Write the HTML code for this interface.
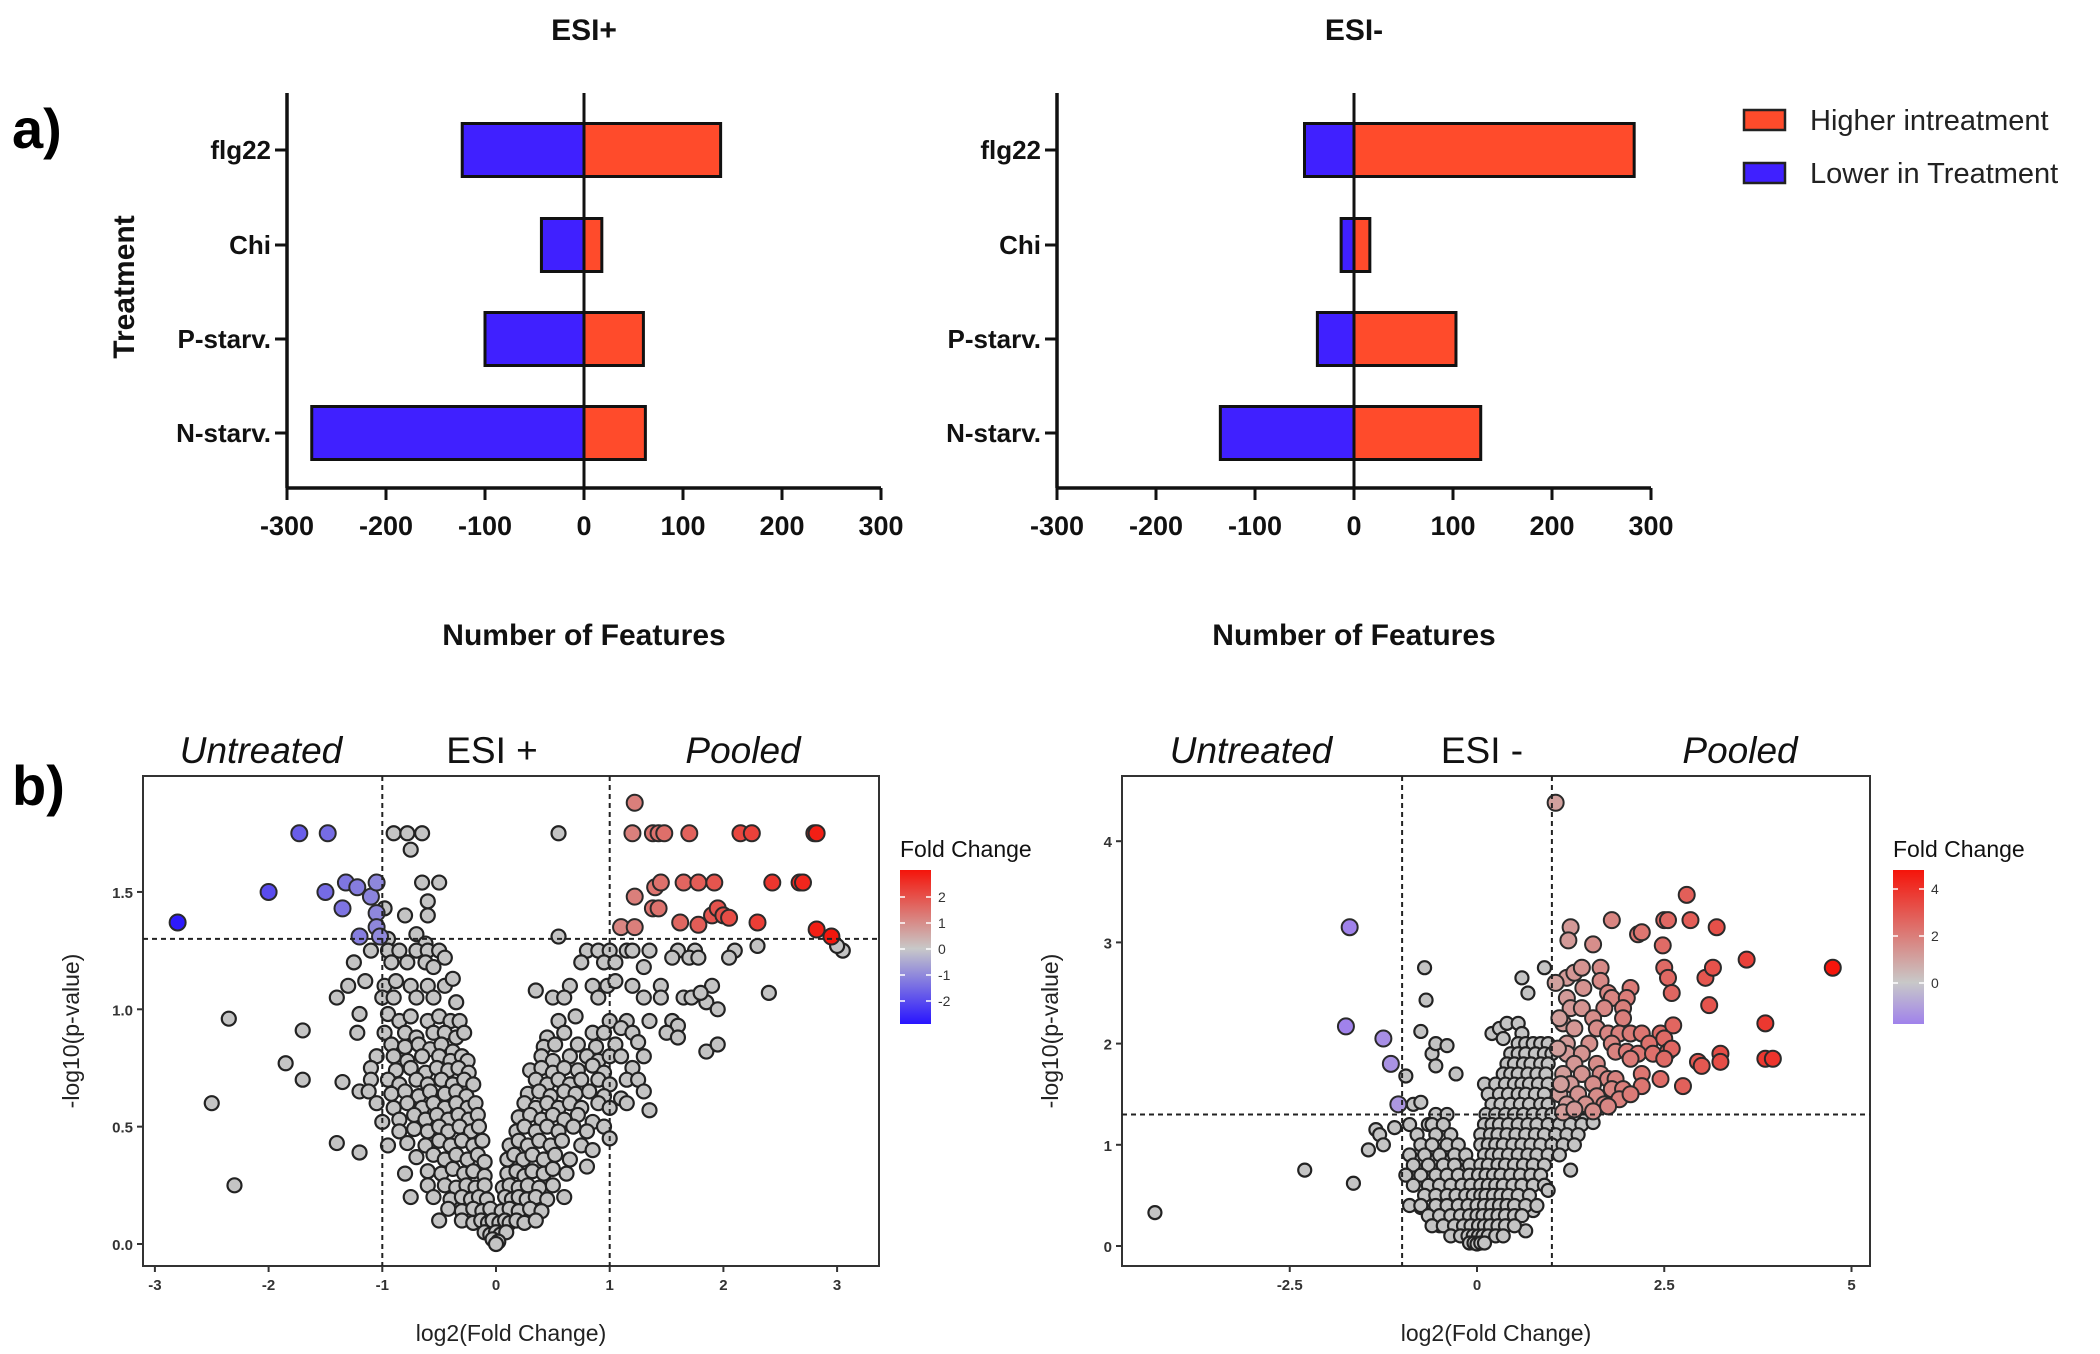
<!DOCTYPE html>
<html><head><meta charset="utf-8"><style>
html,body{margin:0;padding:0;background:#fff;}
svg{display:block;}
.cond{font-family:"Liberation Sans Narrow","Liberation Sans",sans-serif;font-weight:bold;}
.sans{font-family:"Liberation Sans",sans-serif;}
</style></head><body>
<svg id="fig" width="2100" height="1354" viewBox="0 0 2100 1354" xmlns="http://www.w3.org/2000/svg">
<rect width="2100" height="1354" fill="#fff"/>
<text x="12" y="148" class="sans" font-size="56" font-weight="bold">a)</text>
<text x="12" y="805" class="sans" font-size="56" font-weight="bold">b)</text>
<g id="barA"></g>
<g id="barB"></g>
<g id="legend">
  <rect x="1744" y="110" width="41" height="20" fill="#ff4b2b" stroke="#222" stroke-width="2.5"/>
  <text x="1810" y="130" class="sans" font-size="29" fill="#222">Higher intreatment</text>
  <rect x="1744" y="163" width="41" height="20" fill="#4020ff" stroke="#222" stroke-width="2.5"/>
  <text x="1810" y="183" class="sans" font-size="29" fill="#222">Lower in Treatment</text>
</g>
<g id="volA"></g>
<g id="volB"></g>
</svg>
<script>
// ---------- Panel a data ----------
const barCategories = ["flg22","Chi","P-starv.","N-starv."];
const esiPosLower = [-123,-43,-100,-275];
const esiPosHigher = [138,18,60,62];
const esiNegLower = [-50,-13,-37,-135];
const esiNegHigher = [283,16,103,128];
const barTicks = [-300,-200,-100,0,100,200,300];

// ---------- Panel b data ----------
const volPosTicksX = [-3,-2,-1,0,1,2,3];
const volPosTicksY = [0,0.5,1.0,1.5];
const volPosTickLabelsY = ["0.0","0.5","1.0","1.5"];
const volPosColorTicks = [2,1,0,-1,-2];
const volPosSig = [[-2.8,1.37],[-2.0,1.50],[-1.73,1.75],[-1.48,1.75],[-1.5,1.50],[-1.32,1.54],[-1.22,1.52],[-1.35,1.43],[-1.1,1.48],[-1.05,1.54],[-1.05,1.41],[-1.05,1.35],[-1.2,1.31],[-1.02,1.31],
[1.22,1.88],[1.2,1.75],[1.38,1.75],[1.43,1.75],[1.48,1.75],[1.7,1.75],[2.15,1.75],[2.25,1.75],[2.8,1.75],[2.82,1.75],[1.1,1.35],[1.22,1.35],[1.22,1.48],[1.4,1.52],[1.45,1.54],[1.38,1.43],[1.43,1.43],[1.65,1.54],[1.78,1.54],[1.92,1.54],[1.62,1.37],[1.78,1.36],[1.9,1.40],[1.95,1.43],[2.0,1.40],[2.05,1.39],[2.3,1.37],[2.43,1.54],[2.67,1.54],[2.7,1.54],[2.82,1.34],[2.95,1.31]];
const volPosGray = [[-0.9,1.75],[-0.78,1.75],[-0.65,1.75],[-0.75,1.68],[-0.65,1.54],[-0.5,1.54],[-0.8,1.40],[-0.6,1.40],[-0.98,1.43],[0.55,1.75],[0.55,1.31],[-0.6,1.46],[-0.7,1.32],[-0.95,1.3],[-0.62,1.28],
[-1.1,1.25],[-0.95,1.25],[-0.85,1.25],[-0.7,1.25],[-0.6,1.25],[-0.5,1.25],[-0.45,1.22],[0.8,1.25],[0.9,1.25],[1.0,1.25],[1.15,1.25],[1.2,1.25],[1.35,1.25],[1.6,1.25],[1.75,1.25],[2.1,1.25],[2.3,1.27],[3.05,1.25],[3.0,1.27],
[-1.25,1.2],[-0.92,1.2],[-0.78,1.2],[-0.62,1.2],[-0.55,1.18],[0.75,1.2],[0.95,1.2],[1.05,1.2],[1.3,1.18],[1.55,1.22],[1.7,1.22],[1.78,1.22],[2.05,1.22],
[-1.3,1.1],[-1.15,1.12],[-0.98,1.1],[-0.88,1.12],[-0.75,1.1],[-0.6,1.1],[-0.45,1.1],[-0.38,1.13],[0.35,1.08],[0.65,1.1],[0.85,1.1],[0.98,1.1],[1.05,1.12],[1.2,1.1],[1.45,1.1],[1.9,1.1],[2.4,1.07],
[-1.4,1.05],[-1.0,1.05],[-0.9,1.05],[-0.7,1.05],[-0.55,1.05],[-0.35,1.03],[0.5,1.05],[0.6,1.05],[0.9,1.05],[1.3,1.05],[1.45,1.05],[1.65,1.05],[1.72,1.05],[1.85,1.03],[1.8,1.07],
[-1.2,0.98],[-0.95,0.98],[-0.85,0.95],[-0.75,0.97],[-0.6,0.95],[-0.5,0.97],[-0.4,0.95],[-0.32,0.95],[0.55,0.95],[0.7,0.97],[1.0,0.95],[1.15,0.95],[1.35,0.95],[1.55,0.95],[1.6,0.93],[1.95,1.0],
[-2.35,0.96],[-1.7,0.91],[-1.22,0.9],[-0.98,0.9],[-0.8,0.9],[-0.7,0.88],[-0.55,0.9],[-0.45,0.9],[-0.35,0.88],[-0.28,0.9],[0.45,0.88],[0.6,0.9],[0.85,0.9],[0.95,0.9],[1.1,0.92],[1.2,0.9],[1.5,0.9],
[-0.92,0.85],[-0.8,0.84],[-0.68,0.85],[-0.58,0.83],[-0.48,0.85],[-0.38,0.82],[0.42,0.84],[0.52,0.85],[0.72,0.85],[0.88,0.84],[1.05,0.85],[1.25,0.86],[1.6,0.88],
[-1.85,0.77],[-1.05,0.8],[-0.9,0.8],[-0.78,0.78],[-0.65,0.8],[-0.5,0.8],[-0.4,0.78],[-0.3,0.8],[-0.25,0.78],[0.4,0.8],[0.5,0.78],[0.65,0.8],[0.8,0.8],[0.9,0.78],[1.0,0.8],[1.1,0.8],[1.3,0.8],[1.85,0.82],[1.95,0.85],
[-1.1,0.75],[-0.88,0.74],[-0.75,0.75],[-0.62,0.73],[-0.52,0.75],[-0.42,0.74],[-0.33,0.75],[-0.24,0.73],[0.3,0.74],[0.4,0.75],[0.5,0.73],[0.6,0.75],[0.72,0.74],[0.85,0.76],[0.95,0.73],[1.2,0.75],
[-1.7,0.7],[-1.35,0.69],[-1.1,0.7],[-0.95,0.7],[-0.85,0.68],[-0.7,0.7],[-0.6,0.68],[-0.48,0.7],[-0.38,0.68],[-0.28,0.7],[-0.2,0.68],[0.35,0.7],[0.45,0.68],[0.55,0.7],[0.65,0.68],[0.75,0.7],[0.9,0.7],[1.0,0.68],[1.15,0.7],[1.25,0.7],[1.3,0.65],
[-1.2,0.65],[-1.12,0.65],[-0.92,0.64],[-0.8,0.65],[-0.68,0.63],[-0.58,0.65],[-0.45,0.64],[-0.35,0.65],[-0.26,0.63],[0.28,0.64],[0.38,0.65],[0.48,0.63],[0.6,0.65],[0.7,0.64],[0.82,0.65],[0.95,0.63],[1.1,0.62],
[-2.5,0.6],[-1.05,0.6],[-0.9,0.58],[-0.78,0.6],[-0.65,0.58],[-0.55,0.6],[-0.45,0.58],[-0.35,0.6],[-0.25,0.58],[-0.18,0.6],[0.25,0.6],[0.35,0.58],[0.45,0.6],[0.55,0.58],[0.65,0.6],[0.75,0.58],[0.9,0.6],[1.0,0.58],[1.15,0.6],[1.35,0.57],
[-1.0,0.52],[-0.85,0.53],[-0.72,0.55],[-0.62,0.53],[-0.52,0.55],[-0.42,0.53],[-0.33,0.55],[-0.24,0.53],[-0.16,0.55],[0.2,0.54],[0.3,0.55],[0.4,0.53],[0.5,0.55],[0.6,0.53],[0.72,0.55],[0.85,0.52],
[-0.85,0.48],[-0.72,0.49],[-0.6,0.48],[-0.5,0.5],[-0.42,0.48],[-0.32,0.5],[-0.22,0.48],[-0.15,0.5],[0.18,0.48],[0.25,0.5],[0.35,0.48],[0.45,0.5],[0.55,0.48],[0.68,0.5],[0.8,0.48],[0.95,0.5],[1.0,0.45],
[-1.4,0.43],[-1.2,0.39],[-0.95,0.42],[-0.78,0.43],[-0.62,0.42],[-0.5,0.44],[-0.4,0.42],[-0.3,0.44],[-0.2,0.42],[-0.12,0.44],[0.12,0.42],[0.2,0.44],[0.28,0.42],[0.38,0.44],[0.48,0.42],[0.58,0.44],[0.75,0.42],[0.85,0.4],
[-0.7,0.37],[-0.55,0.38],[-0.45,0.36],[-0.35,0.38],[-0.25,0.36],[-0.16,0.38],[-0.1,0.35],[0.1,0.36],[0.16,0.38],[0.24,0.36],[0.32,0.38],[0.42,0.36],[0.52,0.38],[0.65,0.36],
[-0.8,0.3],[-0.6,0.31],[-0.48,0.3],[-0.38,0.32],[-0.28,0.3],[-0.2,0.31],[-0.1,0.29],[0.1,0.3],[0.18,0.31],[0.25,0.29],[0.32,0.31],[0.42,0.3],[0.5,0.32],[0.62,0.3],[0.8,0.33],
[-0.6,0.25],[-0.45,0.25],[-0.35,0.24],[-0.26,0.25],[-0.18,0.24],[-0.1,0.25],[0.06,0.24],[0.12,0.25],[0.2,0.24],[0.28,0.25],[0.38,0.24],[0.5,0.25],
[-2.3,0.25],[-0.75,0.2],[-0.55,0.2],[-0.4,0.19],[-0.3,0.2],[-0.22,0.19],[-0.15,0.2],[-0.08,0.19],[0.08,0.2],[0.14,0.19],[0.2,0.2],[0.27,0.19],[0.35,0.2],[0.45,0.19],[0.6,0.2],
[-0.42,0.15],[-0.3,0.14],[-0.2,0.15],[-0.12,0.14],[-0.05,0.15],[0.05,0.14],[0.12,0.15],[0.2,0.14],[0.3,0.15],[0.4,0.14],
[-0.5,0.1],[-0.3,0.1],[-0.2,0.09],[-0.13,0.1],[-0.07,0.09],[-0.03,0.1],[0.03,0.09],[0.08,0.1],[0.12,0.09],[0.18,0.1],[0.25,0.09],[0.35,0.1],
[-0.1,0.05],[-0.05,0.04],[0,0.05],[0.04,0.04],[0.09,0.05],[-0.03,0.02],[0.02,0.01],[0,0.0]];

const volNegTicksX = [-2.5,0,2.5,5];
const volNegTickLabelsX = ["-2.5","0","2.5","5"];
const volNegTicksY = [0,1,2,3,4];
const volNegColorTicks = [4,2,0];
const volNegSig = [[-1.7,3.15],[-1.75,2.17],[-1.25,2.05],[-1.15,1.8],[-1.05,1.4],
[1.05,4.38],[2.8,3.47],[1.8,3.22],[2.5,3.22],[2.55,3.22],[2.85,3.22],[3.2,3.15],[1.25,3.15],[1.22,3.02],[1.55,2.98],[2.15,3.08],[2.2,3.1],[2.48,2.97],[3.6,2.83],[4.75,2.75],
[1.2,2.65],[1.3,2.7],[1.4,2.75],[1.65,2.75],[1.65,2.62],[2.5,2.75],[2.55,2.65],[3.05,2.65],[3.15,2.75],[1.42,2.55],[1.75,2.5],[1.8,2.45],[2.05,2.55],[2.0,2.45],[2.6,2.5],
[1.2,2.45],[1.25,2.35],[1.4,2.35],[1.7,2.35],[1.95,2.35],[3.1,2.38],[1.95,2.25],[1.55,2.25],[1.15,2.2],[1.3,2.15],[1.6,2.15],[1.75,2.1],[1.9,2.1],[2.05,2.1],[2.2,2.1],[2.45,2.1],[2.62,2.18],[3.85,2.2],
[1.2,2.0],[1.5,2.0],[1.8,2.0],[2.3,2.0],[2.5,2.05],[1.2,1.9],[1.4,1.9],[1.85,1.92],[2.0,1.92],[2.15,1.9],[2.35,1.9],[2.55,1.92],[2.6,1.95],[3.25,1.9],
[1.3,1.8],[1.6,1.8],[2.05,1.85],[2.5,1.85],[2.95,1.82],[3.0,1.78],[3.25,1.82],[3.85,1.85],[3.95,1.85],
[1.15,1.7],[1.4,1.7],[1.65,1.7],[1.75,1.65],[1.85,1.65],[2.2,1.7],[1.25,1.6],[1.55,1.6],[1.8,1.55],[1.95,1.55],[2.2,1.58],[2.45,1.65],[2.75,1.58],
[1.1,1.5],[1.35,1.5],[1.6,1.48],[1.9,1.45],[2.05,1.5],[1.2,1.4],[1.45,1.4],[1.7,1.4],[1.15,1.32],[1.3,1.35],[1.55,1.33],[1.75,1.38],[1.05,2.6],[1.1,2.25],[1.08,1.95],[1.12,1.6]];
const volNegGray = [[-4.3,0.33],[-2.3,0.75],[-1.65,0.62],[-1.45,0.95],[-1.35,1.15],[-1.3,1.1],[-1.25,1.0],[-1.1,1.17],[-0.7,2.75],[-0.68,2.43],[-0.75,2.12],[-0.6,1.9],[-0.55,2.0],[-0.4,1.98],[-0.55,1.78],[-0.28,1.7],[-0.95,1.68],
[0.6,2.65],[0.68,2.5],[0.9,2.75],[0.2,2.1],[0.3,2.15],[0.4,2.2],[0.35,2.05],[0.55,2.2],[0.6,2.1],[-0.85,1.4],[-0.75,1.42],[-0.65,1.2],[-0.85,0.72],[-0.75,0.38],[-0.5,0.2],[0.65,0.15],[0.75,0.35],
[0.55,2.0],[0.65,2.0],[0.75,2.0],[0.85,2.0],[0.95,2.0],
[0.45,1.9],[0.55,1.9],[0.65,1.9],[0.78,1.9],[0.9,1.9],[1.0,1.9],
[0.4,1.8],[0.5,1.8],[0.62,1.8],[0.72,1.8],[0.85,1.8],[0.95,1.8],
[0.35,1.7],[0.45,1.7],[0.55,1.7],[0.68,1.7],[0.8,1.7],[0.92,1.7],
[0.1,1.6],[0.25,1.6],[0.38,1.6],[0.5,1.6],[0.6,1.6],[0.7,1.6],[0.82,1.6],[0.95,1.6],
[0.15,1.5],[0.3,1.5],[0.42,1.5],[0.55,1.5],[0.65,1.5],[0.78,1.5],[0.9,1.5],
[0.2,1.4],[0.32,1.4],[0.45,1.4],[0.58,1.4],[0.7,1.4],[0.85,1.4],[0.95,1.4],
[-0.55,1.3],[-0.4,1.3],[0.12,1.3],[0.25,1.3],[0.38,1.3],[0.5,1.3],[0.62,1.3],[0.75,1.3],[0.88,1.3],[1.0,1.3],[1.15,1.27],[1.3,1.27],[1.45,1.25],
[-0.9,1.2],[-0.6,1.2],[-0.45,1.2],[0.1,1.2],[0.2,1.2],[0.3,1.2],[0.42,1.2],[0.55,1.2],[0.68,1.2],[0.8,1.2],[0.95,1.2],[1.1,1.2],[1.25,1.2],[1.4,1.2],[1.55,1.22],
[-0.8,1.1],[-0.55,1.1],[-0.35,1.1],[0.05,1.1],[0.18,1.1],[0.28,1.1],[0.4,1.1],[0.52,1.1],[0.65,1.1],[0.78,1.1],[0.9,1.1],[1.05,1.1],[1.2,1.1],[1.35,1.1],
[-0.75,1.0],[-0.6,1.0],[-0.4,1.0],[-0.25,1.0],[0.05,1.0],[0.15,1.0],[0.25,1.0],[0.35,1.0],[0.48,1.0],[0.6,1.0],[0.72,1.0],[0.85,1.0],[1.0,1.0],[1.15,1.0],[1.3,1.0],
[-0.9,0.9],[-0.7,0.9],[-0.5,0.9],[-0.3,0.9],[-0.15,0.9],[0.1,0.9],[0.2,0.9],[0.3,0.9],[0.42,0.9],[0.55,0.9],[0.68,0.9],[0.8,0.9],[0.95,0.9],[1.1,0.9],
[-0.85,0.8],[-0.65,0.8],[-0.45,0.8],[-0.3,0.8],[-0.1,0.8],[0.05,0.8],[0.15,0.8],[0.28,0.8],[0.38,0.8],[0.5,0.8],[0.62,0.8],[0.75,0.8],[0.9,0.8],
[-0.95,0.7],[-0.75,0.7],[-0.55,0.7],[-0.4,0.7],[-0.25,0.7],[-0.1,0.7],[0.02,0.7],[0.12,0.7],[0.22,0.7],[0.32,0.7],[0.45,0.7],[0.58,0.7],[0.72,0.7],[0.85,0.7],[1.25,0.75],
[-0.85,0.6],[-0.65,0.6],[-0.5,0.6],[-0.35,0.6],[-0.2,0.6],[-0.08,0.6],[0.05,0.6],[0.15,0.6],[0.25,0.6],[0.35,0.6],[0.48,0.6],[0.6,0.6],[0.75,0.6],[0.9,0.6],
[-0.7,0.5],[-0.55,0.5],[-0.4,0.5],[-0.28,0.5],[-0.15,0.5],[-0.05,0.5],[0.05,0.5],[0.12,0.5],[0.22,0.5],[0.32,0.5],[0.42,0.5],[0.55,0.5],[0.7,0.5],[0.95,0.55],
[-0.9,0.4],[-0.75,0.4],[-0.55,0.4],[-0.4,0.4],[-0.25,0.4],[-0.12,0.4],[0.0,0.4],[0.1,0.4],[0.2,0.4],[0.3,0.4],[0.4,0.4],[0.5,0.4],[0.65,0.4],[0.8,0.4],
[-0.65,0.3],[-0.5,0.3],[-0.35,0.3],[-0.22,0.3],[-0.1,0.3],[0.0,0.3],[0.08,0.3],[0.18,0.3],[0.28,0.3],[0.38,0.3],[0.5,0.3],[0.6,0.3],
[-0.6,0.2],[-0.45,0.2],[-0.3,0.2],[-0.18,0.2],[-0.08,0.2],[0.02,0.2],[0.1,0.2],[0.18,0.2],[0.28,0.2],[0.38,0.2],[0.5,0.2],
[-0.35,0.1],[-0.22,0.1],[-0.12,0.1],[-0.05,0.1],[0.02,0.1],[0.08,0.1],[0.15,0.1],[0.25,0.1],[0.35,0.1],
[-0.1,0.03],[-0.04,0.03],[0.0,0.02],[0.05,0.03],[0.1,0.03]];

const NS = "http://www.w3.org/2000/svg";
function mk(tag, attrs, parent){const e=document.createElementNS(NS,tag);for(const k in attrs)e.setAttribute(k,attrs[k]);parent.appendChild(e);return e;}

// ---------- bar charts ----------
function barChart(g, x0, title, lower, higher, showYTitle){
  const xs = v => x0 + (v+300)*0.99;   // x0 = pixel of -300
  const catY = [150,245,339,433];
  const top=93, bot=488, bh=53;
  const t = mk('text',{x:xs(0),y:40,'text-anchor':'middle','font-size':30,class:'cond',fill:'#111'},g);
  t.textContent=title;
  
  
  barCategories.forEach((c,i)=>{
    const y=catY[i];
    const lo=mk('rect',{x:xs(lower[i]),y:y-bh/2,width:xs(0)-xs(lower[i]),height:bh,fill:'#4020ff',stroke:'#111','stroke-width':3},g);
    
    
    const hi=mk('rect',{x:xs(0),y:y-bh/2,width:xs(higher[i])-xs(0),height:bh,fill:'#ff4b2b',stroke:'#111','stroke-width':3},g);
    
    
    mk('line',{x1:x0-12,x2:x0,y1:y,y2:y,stroke:'#111','stroke-width':3},g);
    const lb=mk('text',{x:x0-16,y:y+9,'text-anchor':'end','font-size':26,class:'cond',fill:'#111'},g);
    lb.textContent=c;
    
    
  });
  mk('line',{x1:xs(0),x2:xs(0),y1:top,y2:bot,stroke:'#111','stroke-width':3},g);
  mk('line',{x1:x0,x2:x0,y1:top,y2:bot,stroke:'#111','stroke-width':3.5},g);
  mk('line',{x1:x0,x2:xs(300),y1:bot,y2:bot,stroke:'#111','stroke-width':3.5},g);
  barTicks.forEach(v=>{
    mk('line',{x1:xs(v),x2:xs(v),y1:bot,y2:bot+12,stroke:'#111','stroke-width':3},g);
    const tl=mk('text',{x:xs(v),y:535,'text-anchor':'middle','font-size':27,class:'cond',fill:'#111'},g);
    tl.textContent=v;
    
    
  });
  const xt=mk('text',{x:xs(0),y:645,'text-anchor':'middle','font-size':30,class:'cond',fill:'#111'},g);
  xt.textContent='Number of Features';
  
  
  if(showYTitle){
    const yt=mk('text',{x:0,y:0,'text-anchor':'middle','font-size':30,class:'cond',fill:'#111',transform:'translate(134,287) rotate(-90)'},g);
    yt.textContent='Treatment';
    
    
  }
}
barChart(document.getElementById('barA'),287,'ESI+',esiPosLower,esiPosHigher,true);
barChart(document.getElementById('barB'),1057,'ESI-',esiNegLower,esiNegHigher,false);

// ---------- volcano ----------
function mix(a,b,t){return 'rgb('+a.map((v,i)=>Math.round(v+(b[i]-v)*t)).join(',')+')';}
function volcano(g,cfg){
  const sx=v=>cfg.x0+v*cfg.kx, sy=v=>cfg.y0-v*cfg.ky;
  const L=cfg.box[0],R=cfg.box[1],T=776,B=1266;
  mk('rect',{x:L,y:T,width:R-L,height:B-T,fill:'#fff',stroke:'#333','stroke-width':2},g);
  const gray=[200,200,200];
  function col(v){ if(v>=0) return mix(gray,cfg.hiCol,Math.min(v/cfg.vmax,1)); return mix(gray,cfg.loCol,Math.min(v/cfg.vmin,1)); }
  cfg.gray.forEach(p=>{
    const c=mk('circle',{cx:sx(p[0]),cy:sy(p[1]),r:cfg.rg,fill:'#c4c4c4',stroke:'#222','stroke-width':2.2},g);
    
    
  });
  cfg.sig.forEach(p=>{
    const c=mk('circle',{cx:sx(p[0]),cy:sy(p[1]),r:cfg.rs,fill:col(p[0]),stroke:'#2a2a2a','stroke-width':2},g);
    
    
  });
  [-1,1].forEach(v=>mk('line',{x1:sx(v),x2:sx(v),y1:T,y2:B,stroke:'#222','stroke-width':2,'stroke-dasharray':'5,4'},g));
  mk('line',{x1:L,x2:R,y1:sy(1.3),y2:sy(1.3),stroke:'#222','stroke-width':2,'stroke-dasharray':'5,4'},g);
  cfg.ticksX.forEach((v,i)=>{
    mk('line',{x1:sx(v),x2:sx(v),y1:B,y2:B+6,stroke:'#333','stroke-width':2},g);
    const t=mk('text',{x:sx(v),y:1290,'text-anchor':'middle','font-size':15,class:'sans','font-weight':'bold',fill:'#333'},g);
    t.textContent=cfg.labelsX?cfg.labelsX[i]:v;
    
    
  });
  cfg.ticksY.forEach((v,i)=>{
    mk('line',{x1:L-6,x2:L,y1:sy(v),y2:sy(v),stroke:'#333','stroke-width':2},g);
    const t=mk('text',{x:L-10,y:sy(v)+6,'text-anchor':'end','font-size':15,class:'sans','font-weight':'bold',fill:'#333'},g);
    t.textContent=cfg.labelsY?cfg.labelsY[i]:v;
    
    
  });
  const xt=mk('text',{x:(L+R)/2,y:1341,'text-anchor':'middle','font-size':23,class:'sans',fill:'#222'},g);
  xt.textContent='log2(Fold Change)';
  
  
  const yt=mk('text',{x:0,y:0,'text-anchor':'middle','font-size':23,class:'sans',fill:'#222',transform:'translate('+(L-64)+',1031) rotate(-90)'},g);
  yt.textContent='-log10(p-value)';
  
  
  const hd=[['Untreated',cfg.hx[0],'italic','header-untreated'],[cfg.title,cfg.hx[1],'normal','header-title'],['Pooled',cfg.hx[2],'italic','header-pooled']];
  hd.forEach(h=>{
    const t=mk('text',{x:h[1],y:763,'text-anchor':'middle','font-size':37,class:'sans','font-style':h[2],fill:'#111'},g);
    t.textContent=h[0];
    
    
  });
  // colorbar
  const cb=cfg.cbx, cy0=870, cy1=1024;
  const gid=cfg.gid;
  const defs=mk('defs',{},g);
  const lg=mk('linearGradient',{id:gid,x1:0,y1:0,x2:0,y2:1},defs);
  mk('stop',{offset:'0','stop-color':mix(gray,cfg.hiCol,1)},lg);
  mk('stop',{offset:cfg.zeroFrac,'stop-color':'rgb(200,200,200)'},lg);
  mk('stop',{offset:'1','stop-color':mix(gray,cfg.loCol,Math.min(cfg.cbMin/cfg.vmin,1))},lg);
  const bar=mk('rect',{x:cb,y:cy0,width:31,height:cy1-cy0,fill:'url(#'+gid+')'},g);
  
  
  const ct=mk('text',{x:cb,y:857,'font-size':23,class:'sans',fill:'#111'},g);
  ct.textContent='Fold Change';
  
  
  const cyv=v=>cfg.cbZeroY - v*cfg.cbk;
  cfg.colorTicks.forEach(v=>{
    mk('line',{x1:cb,x2:cb+5,y1:cyv(v),y2:cyv(v),stroke:'#fff','stroke-width':1.5},g);
    mk('line',{x1:cb+26,x2:cb+31,y1:cyv(v),y2:cyv(v),stroke:'#fff','stroke-width':1.5},g);
    const t=mk('text',{x:cb+38,y:cyv(v)+5,'font-size':14,class:'sans',fill:'#333'},g);
    t.textContent=v;
    
    
  });
}
volcano(document.getElementById('volA'),{gid:'gradPos',x0:496,kx:113.7,y0:1244,ky:234.7,box:[143,879],gray:volPosGray,sig:volPosSig,
  rg:7,rs:8,hiCol:[245,20,10],loCol:[40,20,255],vmax:3,vmin:-2.9,cbMin:-2.9,zeroFrac:0.51,
  ticksX:volPosTicksX,ticksY:volPosTicksY,labelsY:volPosTickLabelsY,title:'ESI +',hx:[261,492,743],
  cbx:900,cbZeroY:949,cbk:26,colorTicks:volPosColorTicks});
volcano(document.getElementById('volB'),{gid:'gradNeg',x0:1477,kx:74.9,y0:1246,ky:101.2,box:[1122,1870],gray:volNegGray,sig:volNegSig,
  rg:6.5,rs:8,hiCol:[245,20,10],loCol:[160,130,235],vmax:4.8,vmin:-1.5,cbMin:-1.5,zeroFrac:0.73,
  ticksX:volNegTicksX,labelsX:volNegTickLabelsX,ticksY:volNegTicksY,title:'ESI -',hx:[1251,1482,1740],
  cbx:1893,cbZeroY:983,cbk:23.5,colorTicks:volNegColorTicks});
</script>
</body></html>
